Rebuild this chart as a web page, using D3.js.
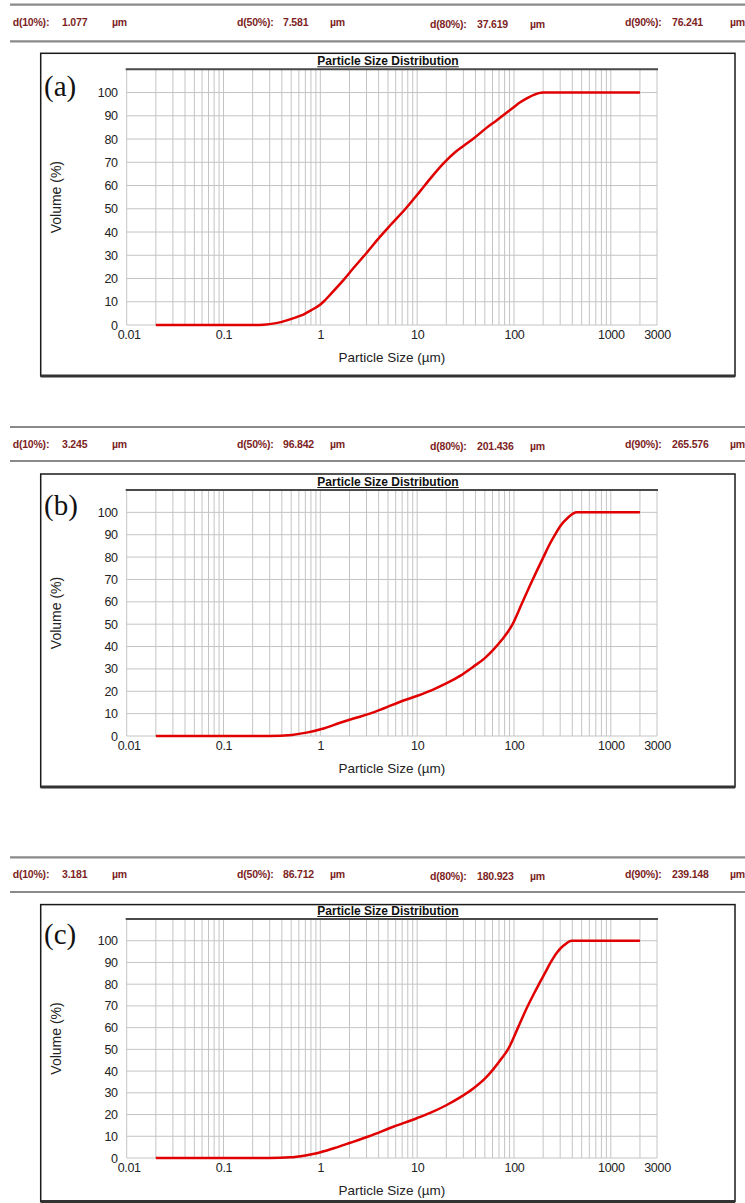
<!DOCTYPE html>
<html>
<head>
<meta charset="utf-8">
<script src="https://cdn.jsdelivr.net/npm/d3@7"></script>
<style>
  body { margin: 0; background: #fff; }
  svg { display: block; }
</style>
</head>
<body>
<div id="chart"></div>
<script>
// ---- data ----
const panelNames = ["(a)", "(b)", "(c)"];
const dNames = ["d(10%):", "d(50%):", "d(80%):", "d(90%):"];
const dValuesA = ["1.077", "7.581", "37.619", "76.241"];
const dValuesB = ["3.245", "96.842", "201.436", "265.576"];
const dValuesC = ["3.181", "86.712", "180.923", "239.148"];

const sizesA = [0.02, 0.05, 0.1, 0.2, 0.26, 0.35, 0.45, 0.55, 0.667, 0.8, 1.0, 1.077, 1.3, 1.73, 2.2, 3.0, 4.14, 5.25, 7.581, 10.7, 14, 18.7, 25, 30, 37.619, 52, 65, 76.241, 100, 116, 140, 158, 200, 2000];
const volumeA = [0, 0, 0, 0, 0.1, 0.8, 2.0, 3.2, 4.5, 6.3, 8.8, 10, 13.6, 19.3, 24.5, 31, 38, 42.8, 50, 57.5, 63.5, 69.5, 74.5, 77, 80, 84.8, 87.8, 90, 93.8, 95.8, 97.8, 98.9, 100, 100];

const sizesB = [0.02, 0.1, 0.3, 0.51, 0.72, 1.03, 1.6, 2.2, 3.245, 4.48, 6.5, 9.9, 15, 20.2, 28, 38, 50, 61, 75, 96.842, 120, 147, 175, 201.436, 230, 265.576, 300, 360, 445, 2000];
const volumeB = [0, 0, 0, 0.5, 1.5, 3.1, 5.9, 7.8, 10, 12.3, 15.1, 17.9, 21, 23.6, 27, 31, 34.8, 38.5, 43, 50, 59, 67.5, 74.5, 80, 85.2, 90, 93.8, 97.6, 100, 100];

const sizesC = [0.02, 0.1, 0.3, 0.49, 0.7, 0.92, 1.4, 2.03, 3.181, 5.68, 9.9, 14, 20.2, 28, 38, 50, 61, 75, 86.712, 110, 135.5, 160, 180.923, 210, 239.148, 277, 330, 395, 2000];
const volumeC = [0, 0, 0, 0.3, 1.2, 2.2, 4.6, 7.0, 10, 14.4, 18.3, 21, 24.4, 28, 32, 36.5, 40.8, 46, 50, 60, 69, 75.5, 80, 85.3, 90, 94.5, 98, 100, 100];

const xTickValues = [0.01, 0.1, 1, 10, 100, 1000, 3000];
const yTickValues = [0, 10, 20, 30, 40, 50, 60, 70, 80, 90, 100];
const yGridValues = [0, 10, 20, 30, 40, 50, 60, 70, 80, 90, 100, 110];

const panels = [
  { name: panelNames[0], dValues: dValuesA, sizes: sizesA, volume: volumeA },
  { name: panelNames[1], dValues: dValuesB, sizes: sizesB, volume: volumeB },
  { name: panelNames[2], dValues: dValuesC, sizes: sizesC, volume: volumeC }
];

// ---- layout ----
const width = 745;
const height = 1203;
const plotLeft = 126.7;
const plotRight = 657;
const boxLeft = 40.7;
const boxRight = 735;

const layouts = [
  { lineTop: 4.7, textY: 22.7, lineBottom: 41.3, boxTop: 53.3, boxBottom: 376, plotTop: 69.3, plotBottom: 325 },
  { lineTop: 427, textY: 444.5, lineBottom: 461, boxTop: 474, boxBottom: 787, plotTop: 490, plotBottom: 736 },
  { lineTop: 857.3, textY: 874, lineBottom: 892, boxTop: 904.6, boxBottom: 1201.5, plotTop: 919, plotBottom: 1158 }
];

const headerLabelX = [12.7, 237, 430, 625];
const headerValueX = [62, 283, 477, 672];
const headerUnitX = [112, 330, 530, 730];

const sansFont = "'Liberation Sans', Arial, sans-serif";
const serifFont = "'Liberation Serif', 'Times New Roman', serif";
const headerColor = "#7d1f1f";

const svg = d3.select("#chart")
  .append("svg")
  .attr("width", width)
  .attr("height", height)
  .style("background", "#fff");

const x = d3.scaleLog()
  .domain([0.01, 3000])
  .range([plotLeft, plotRight]);

panels.forEach((p, i) => {
  const L = layouts[i];
  const g = svg.append("g");

  const y = d3.scaleLinear()
    .domain([0, 110])
    .range([L.plotBottom, L.plotTop]);

  // header strip with d-values
  [L.lineTop, L.lineBottom].forEach(ly => {
    g.append("line")
      .attr("x1", 10).attr("x2", width)
      .attr("y1", ly).attr("y2", ly)
      .attr("stroke", "#8a8a8a")
      .attr("stroke-width", 2.2);
  });

  dNames.forEach((label, k) => {
    const ty = L.textY + (k === 2 ? 2 : 0);
    const row = g.append("g")
      .style("font-family", sansFont)
      .style("font-size", "10.5px")
      .style("font-weight", "bold")
      .style("letter-spacing", "-0.2px")
      .style("fill", headerColor);
    row.append("text").attr("x", headerLabelX[k]).attr("y", ty).attr("dy", "0.35em").text(label);
    row.append("text").attr("x", headerValueX[k]).attr("y", ty).attr("dy", "0.35em").text(p.dValues[k]);
    row.append("text").attr("x", headerUnitX[k]).attr("y", ty).attr("dy", "0.35em").text("µm");
  });

  // outer frame
  g.append("rect")
    .attr("x", boxLeft)
    .attr("y", L.boxTop)
    .attr("width", boxRight - boxLeft)
    .attr("height", L.boxBottom - L.boxTop)
    .attr("fill", "none")
    .attr("stroke", "#1a1a1a")
    .attr("stroke-width", 1.5);
  g.append("line")
    .attr("x1", boxLeft).attr("x2", boxRight)
    .attr("y1", L.boxBottom).attr("y2", L.boxBottom)
    .attr("stroke", "#333")
    .attr("stroke-width", 3);

  // grid
  g.append("g")
    .selectAll("line")
    .data(x.ticks())
    .join("line")
    .attr("x1", d => x(d)).attr("x2", d => x(d))
    .attr("y1", y(0)).attr("y2", y(110))
    .attr("stroke", "#c4c4c4")
    .attr("stroke-width", 1);

  g.append("g")
    .selectAll("line")
    .data(yGridValues)
    .join("line")
    .attr("x1", plotLeft).attr("x2", plotRight)
    .attr("y1", d => y(d)).attr("y2", d => y(d))
    .attr("stroke", "#c4c4c4")
    .attr("stroke-width", 1);

  g.append("line")
    .attr("x1", plotLeft - 1).attr("x2", plotRight + 1)
    .attr("y1", y(110)).attr("y2", y(110))
    .attr("stroke", "#4a4a4a")
    .attr("stroke-width", 2);

  // title
  const title = g.append("text")
    .attr("x", 388)
    .attr("y", y(110) - 4)
    .attr("text-anchor", "middle")
    .style("font-family", sansFont)
    .style("font-size", "12px")
    .style("font-weight", "bold")
    .style("fill", "#111")
    .text("Particle Size Distribution");
  const tw = title.node().getComputedTextLength();
  g.append("line")
    .attr("x1", 388 - tw / 2).attr("x2", 388 + tw / 2)
    .attr("y1", y(110) - 2.5).attr("y2", y(110) - 2.5)
    .attr("stroke", "#111")
    .attr("stroke-width", 1);

  // axes
  const yAxis = g.append("g")
    .attr("transform", `translate(${plotLeft},0)`)
    .call(d3.axisLeft(y).tickValues(yTickValues).tickSize(0).tickPadding(9));
  const xAxis = g.append("g")
    .attr("transform", `translate(0,${y(0)})`)
    .call(d3.axisBottom(x).tickValues(xTickValues).tickFormat(d3.format("~g")).tickSize(0).tickPadding(5));

  [yAxis, xAxis].forEach(ax => {
    ax.select(".domain").remove();
    ax.selectAll("text")
      .style("font-family", sansFont)
      .style("font-size", "12.5px")
      .style("letter-spacing", "-0.3px")
      .style("fill", "#222");
  });
  xAxis.selectAll(".tick text").attr("dx", (d, k) => k === 0 ? 2 : 0);

  // axis titles
  g.append("text")
    .attr("x", (plotLeft + plotRight) / 2)
    .attr("y", y(0) + 37)
    .attr("text-anchor", "middle")
    .style("font-family", sansFont)
    .style("font-size", "13.5px")
    .style("fill", "#222")
    .text("Particle Size (µm)");

  g.append("text")
    .attr("transform", `translate(61,${(y(0) + y(110)) / 2}) rotate(-90)`)
    .attr("text-anchor", "middle")
    .style("font-family", sansFont)
    .style("font-size", "14px")
    .style("fill", "#222")
    .text("Volume (%)");

  // panel label
  g.append("text")
    .attr("x", 44)
    .attr("y", y(100) + 3)
    .style("font-family", serifFont)
    .style("font-size", "29px")
    .style("fill", "#111")
    .text(p.name);

  // cumulative volume curve
  const rows = p.sizes.map((s, k) => ({ size: s, vol: p.volume[k] }));
  const line = d3.line()
    .x(d => x(d.size))
    .y(d => y(d.vol))
    .curve(d3.curveMonotoneX);

  g.append("path")
    .datum(rows)
    .attr("d", line)
    .attr("fill", "none")
    .attr("stroke", "#e00000")
    .attr("stroke-width", 2.5)
    .attr("stroke-linejoin", "round");
});
</script>
</body>
</html>
